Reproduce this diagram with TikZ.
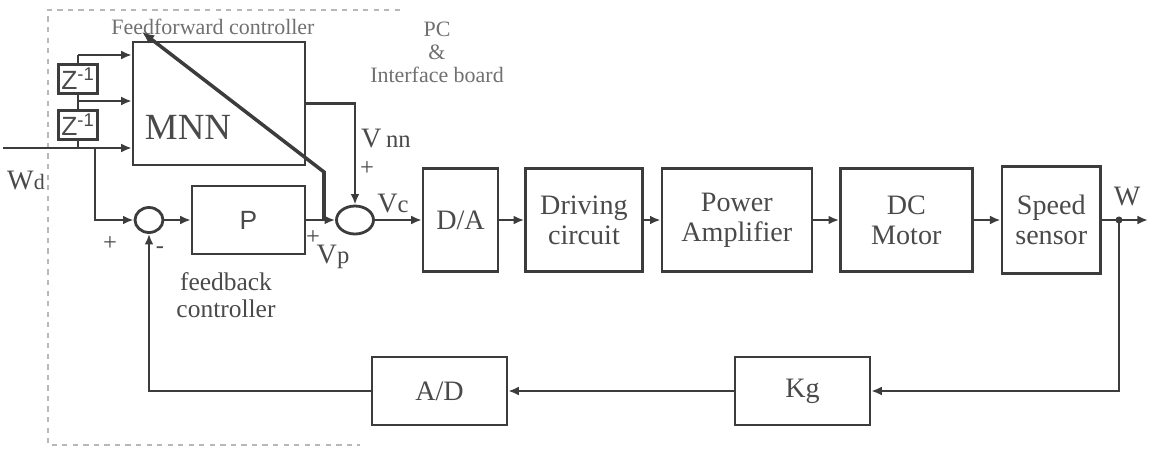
\documentclass[tikz,border=0pt]{standalone}
\usepackage{fontspec}
\setmainfont{Liberation Serif}
\newfontfamily\blocksans{Liberation Sans}
\usepackage{xcolor}
\definecolor{ink}{HTML}{3C3C3C}
\definecolor{inktext}{HTML}{4A4A4A}
\definecolor{faint}{HTML}{707070}
\definecolor{frame}{HTML}{B8B8B8}
\usepackage{tikz}
\usetikzlibrary{shapes.geometric,arrows.meta,positioning,calc}

\begin{document}
\begin{tikzpicture}[
  x=0.02cm, y=-0.02cm,
  blk/.style={
    rectangle, draw=ink, line width=1.4pt, align=center, text=inktext,
    font=\fontsize{16}{17}\selectfont,
    minimum height=2.06cm, inner sep=2pt
  },
  low/.style={blk, minimum width=2.7cm, minimum height=1.36cm},
  sum/.style={ellipse, draw=ink, line width=1.6pt, inner sep=0pt},
  zbox/.style={
    rectangle, draw=ink, line width=1.8pt, text=inktext,
    minimum width=0.78cm, minimum height=0.57cm, inner sep=0pt,
    font=\blocksans\fontsize{15}{15}\selectfont
  },
  arr/.style={-{Latex[length=6pt,width=5pt]}, ink, line width=1.4pt},
  ln/.style={ink, line width=1.4pt},
  lbl/.style={text=inktext, font=\fontsize{16}{16}\selectfont, inner sep=0pt},
  sgn/.style={text=inktext, font=\fontsize{14}{14}\selectfont, inner sep=0pt},
  note/.style={text=faint, align=center, font=\fontsize{12.5}{13}\selectfont, inner sep=0pt}
]
\useasboundingbox (0,0) rectangle (1149,451);

% PC & interface board frame
\draw[frame, dashed, line width=0.8pt] (400,10) -- (48,10) -- (48,445) -- (360,445);
\node[note] (pcnote) at (437,52) {PC\\\&\\Interface board};
\node[note] (ffnote) at (213,27) {Feedforward controller};

% Controllers
\node[blk, minimum width=3.44cm, minimum height=2.46cm] (mnn) at (219,103.5) {};
\node[lbl, font=\fontsize{21}{21}\selectfont] (mnntext) at (188,127) {MNN};
\node[zbox] (zd1) at (78,79) {Z\textsuperscript{-1}};
\node[zbox] (zd2) at (78,125) {Z\textsuperscript{-1}};
\node[sum, minimum width=0.56cm, minimum height=0.5cm] (sumfb) at (149,220) {};
\node[blk, minimum width=2.26cm, minimum height=1.36cm, font=\blocksans\fontsize{15}{15}\selectfont] (pctl) at (248.5,220) {P};
\node[sum, minimum width=0.74cm, minimum height=0.56cm] (sumc) at (355,220) {};
\node[lbl, align=center, font=\fontsize{14.5}{15}\selectfont] (fbnote) at (226,295) {feedback\\controller};

% Plant chain
\node[blk, minimum width=1.5cm] (da) at (460.5,220) {D/A};
\node[blk, minimum width=2.34cm, right=0.5cm of da] (drv) {Driving\\circuit};
\node[blk, minimum width=3.0cm, right=0.34cm of drv] (amp) {Power\\Amplifier};
\node[blk, minimum width=2.64cm, right=0.52cm of amp] (dcm) {DC\\Motor};
\node[blk, minimum width=1.98cm, minimum height=2.14cm, right=0.54cm of dcm] (spd) {Speed\\sensor};

% Feedback path
\node[low] (kg) at (802.5,391) {Kg};
\node[low] (ad) at (439.5,391) {A/D};

% Coordinates
\coordinate (wdin) at (3,148);
\coordinate (zsplit) at (78,148);
\coordinate (fbsplit) at (95,148);
\coordinate (zmid) at (78,101);
\coordinate (ztop) at (78,55);
\coordinate (tap) at (324,220);
\coordinate (bend) at (324,172);
\coordinate (tip) at (142,32);
\coordinate (wsplit) at (1119,220);
\coordinate (wout) at (1148,220);

% Arrows
\draw[arr] (wdin) -- (mnn.west |- wdin);
\draw[ln] (zsplit) -- (zd2.south);
\draw[ln] (zd2.north) -- (zd1.south);
\draw[ln] (zd1.north) -- (ztop);
\draw[arr] (ztop) -- (mnn.west |- ztop);
\draw[arr] (zmid) -- (mnn.west |- zmid);
\draw[arr] (fbsplit) |- (sumfb.west);
\draw[arr] (sumfb) -- (pctl);
\draw[arr] (pctl) -- (sumc);
\draw[arr] (mnn.east) -| (sumc.north);
\draw[ink, line width=2pt, -{Latex[length=7pt,width=6pt]}] (tap) -- (bend) -- (tip);
\draw[arr] (sumc) -- (da);
\foreach \a/\b in {da/drv, drv/amp, amp/dcm, dcm/spd}
  \draw[arr] (\a) -- (\b);
\draw[arr] (spd) -- (wout);
\fill[ink] (wsplit) circle (2pt);
\draw[arr] (wsplit) |- (kg);
\draw[arr] (kg) -- (ad);
\draw[arr] (ad.west) -| (sumfb.south);

% Signal labels
\node[lbl] (wdlbl) at (26,180) {W{\fontsize{12.5}{12.5}\selectfont d}};
\node[sgn] (pfb) at (110,244) {+};
\node[sgn] (mfb) at (160,250) {-};
\node[lbl] (vnn) at (386,139) {V\,{\fontsize{14}{14}\selectfont nn}};
\node[sgn] (pnn) at (367,169) {+};
\node[lbl] (vc) at (393,203) {V{\fontsize{14}{14}\selectfont c}};
\node[sgn] (pp) at (313,238) {+};
\node[lbl] (vp) at (333,257) {V{\fontsize{14}{14}\selectfont p}};
\node[lbl] (wlbl) at (1127,196) {W};
\end{tikzpicture}
\end{document}
